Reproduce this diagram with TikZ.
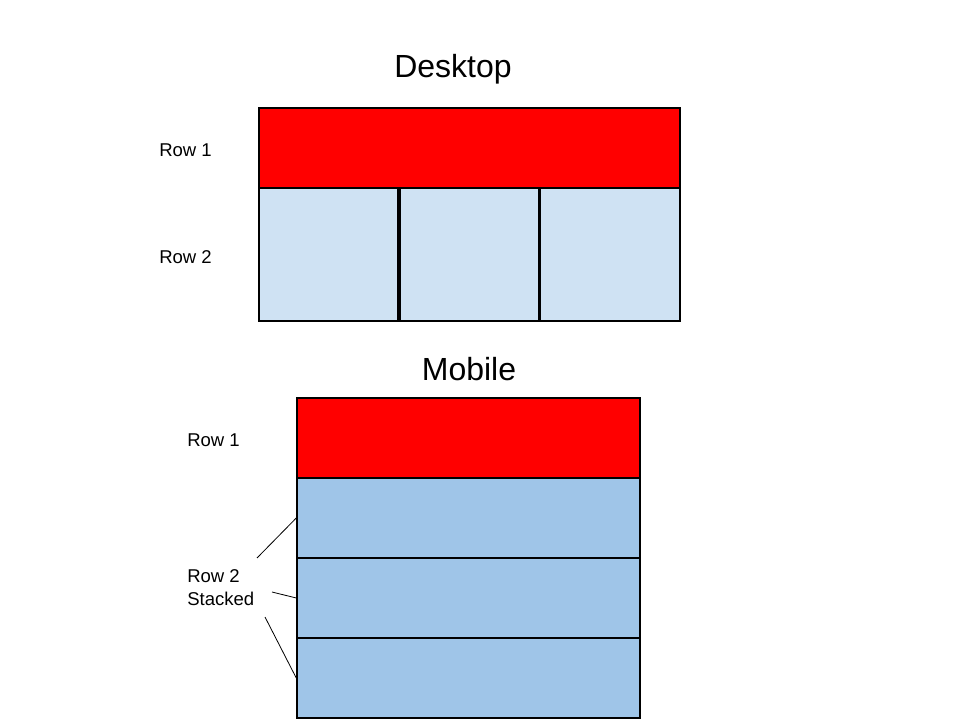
\documentclass[tikz,border=0pt]{standalone}
\usepackage{fontspec}
\setmainfont{Liberation Sans}
\usepackage{tikz}
\usetikzlibrary{positioning}
\definecolor{lightcell}{HTML}{CFE2F3}
\definecolor{stackcell}{HTML}{9FC5E8}
\tikzset{
	cell/.style={draw,line width=1.1pt,inner sep=0pt},
	rowhead/.style={cell,fill=red},
	deskcell/.style={cell,fill=lightcell,minimum width=104.25pt,minimum height=99.75pt},
	mobcell/.style={cell,fill=stackcell,minimum width=257.25pt,minimum height=60pt},
	rowlabel/.style={anchor=west,inner sep=0pt,font=\fontsize{13.9pt}{17.25pt}\selectfont,align=left},
	title/.style={font=\fontsize{24pt}{28pt}\selectfont}
}

\begin{document}
\begin{tikzpicture}[x=0.75pt,y=-0.75pt]
	\useasboundingbox[fill=white] (0,0) rectangle (960,720);
	% desktop layout
	\node[title] (desk) at (453,69) {Desktop};
	\node[rowhead,minimum width=315.75pt,minimum height=60pt] (dhead) at (469.5,148) {};
	\node[deskcell] (dcellA) at (328.5,254.5) {};
	\node[deskcell] (dcellB) at (469.5,254.5) {};
	\node[deskcell,minimum width=105pt] (dcellC) at (610,254.5) {};
	\node[rowlabel] (drowA) at (159,150) {Row 1};
	\node[rowlabel] (drowB) at (159,257) {Row 2};
	% mobile layout
	\node[title] (mob) at (469,369) {Mobile};
	\node[rowhead,minimum width=257.25pt,minimum height=60pt] (mhead) at (468.5,438) {};
	\node[mobcell] (mcellA) at (468.5,518) {};
	\node[mobcell] (mcellB) at (468.5,598) {};
	\node[mobcell] (mcellC) at (468.5,678) {};
	\node[rowlabel] (mrowA) at (187,440) {Row 1};
	\node[rowlabel] (mrowB) at (187,588) {Row 2\\Stacked};
	\coordinate (tipA) at (257,558);
	\coordinate (tipB) at (272,592);
	\coordinate (tipC) at (265,617);
	\draw[line width=0.6pt] (tipA) -- (mcellA.west);
	\draw[line width=0.6pt] (tipB) -- (mcellB.west);
	\draw[line width=0.6pt] (tipC) -- (mcellC.west);
\end{tikzpicture}
\end{document}
